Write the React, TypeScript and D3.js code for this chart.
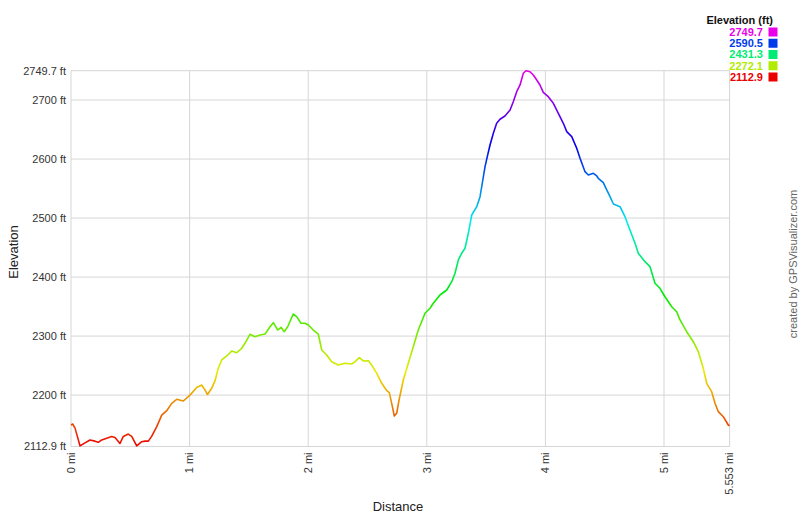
import * as d3 from 'd3';
import React from 'react';

// elevation profile (distance in miles, elevation in feet)
const distanceMi = [
  0, 0.014, 0.034, 0.076, 0.118, 0.16, 0.202, 0.23, 0.259, 0.301, 0.343, 0.371, 0.413, 0.441, 0.483,
  0.512, 0.554, 0.596, 0.624, 0.652, 0.68, 0.723, 0.765, 0.807, 0.849, 0.891, 0.947, 1.003, 1.06,
  1.102, 1.13, 1.151, 1.186, 1.214, 1.242, 1.271, 1.313, 1.355, 1.397, 1.439, 1.467, 1.509, 1.551,
  1.594, 1.636, 1.678, 1.706, 1.743, 1.771, 1.798, 1.827, 1.874, 1.903, 1.939, 1.973, 2.001, 2.043,
  2.085, 2.114, 2.156, 2.198, 2.254, 2.31, 2.367, 2.395, 2.431, 2.465, 2.507, 2.535, 2.578, 2.62,
  2.662, 2.684, 2.704, 2.726, 2.746, 2.766, 2.802, 2.844, 2.886, 2.928, 2.985, 3.027, 3.055, 3.111,
  3.168, 3.21, 3.238, 3.266, 3.294, 3.322, 3.35, 3.379, 3.421, 3.449, 3.463, 3.491, 3.51, 3.533,
  3.561, 3.589, 3.617, 3.659, 3.702, 3.729, 3.758, 3.786, 3.814, 3.836, 3.87, 3.898, 3.927, 3.954,
  3.982, 4.024, 4.067, 4.109, 4.151, 4.18, 4.222, 4.264, 4.292, 4.334, 4.362, 4.404, 4.433, 4.446,
  4.488, 4.517, 4.545, 4.573, 4.629, 4.671, 4.713, 4.756, 4.783, 4.84, 4.882, 4.924, 4.966, 5.008,
  5.065, 5.107, 5.135, 5.191, 5.247, 5.289, 5.331, 5.36, 5.402, 5.43, 5.458, 5.5, 5.542, 5.553,
];

const elevationFt = [
  2149, 2151, 2144, 2114, 2119, 2124, 2122, 2120, 2124, 2127, 2130, 2128, 2118, 2130, 2134,
  2130, 2114, 2121, 2122, 2122, 2130, 2146.5, 2166, 2173.6, 2186, 2192.9, 2190, 2200, 2213,
  2217, 2208.6, 2201, 2211.5, 2224, 2245.4, 2259.5, 2266.3, 2274.7, 2271.8, 2279.3, 2287.8, 2303, 2299,
  2301.8, 2303.5, 2315.9, 2322.7, 2310.3, 2314.9, 2307.4, 2315.9, 2337.4, 2332.9, 2321.7, 2321.7, 2318.8, 2310.3,
  2303.5, 2276.4, 2267.9, 2256.6, 2251, 2253.9, 2252.7, 2256.6, 2263.4, 2257.8, 2258.3, 2251, 2236.9, 2220,
  2207.5, 2204.1, 2186.1, 2164.6, 2169.2, 2191.7, 2225.6, 2253.9, 2282, 2310.3, 2338.6, 2347.1, 2355.6, 2369.6,
  2378.1, 2392.2, 2406.4, 2429, 2440.3, 2448.8, 2474.2, 2505.2, 2519.3, 2536.2, 2553.2, 2587.1, 2604, 2623.8,
  2643.6, 2660.6, 2667.4, 2673, 2683.1, 2697.2, 2714.2, 2725.5, 2745.3, 2749.7, 2748, 2742.4, 2733.9, 2725.5,
  2713.1, 2705.7, 2694.5, 2677.5, 2660.6, 2646.4, 2637.9, 2618.2, 2601.3, 2578.6, 2573, 2575.9, 2571.3, 2567.4,
  2559.9, 2547.6, 2536.2, 2523.8, 2519.3, 2502.3, 2479.8, 2457.2, 2440.3, 2426.1, 2417.6, 2389.5, 2381, 2366.7,
  2349.8, 2341.3, 2327.3, 2307.4, 2290.5, 2273.5, 2245.4, 2220, 2205.8, 2186.1, 2171.9, 2163.4, 2149.3, 2148.1,
];

const yTicks = [2112.9, 2200, 2300, 2400, 2500, 2600, 2700, 2749.7];
const xTicks = [0, 1, 2, 3, 4, 5, 5.553];
const legendValues = [2749.7, 2590.5, 2431.3, 2272.1, 2112.9];

const width = 800;
const height = 517;
const marginTop = 70.7;
const marginRight = 70.4;
const marginBottom = 70.5;
const marginLeft = 71;
const font = 'Arial, "Liberation Sans", sans-serif';

const minEle = 2112.9;
const maxEle = 2749.7;

// hue ramp red -> magenta across the elevation range
const colorOf = (v: number) =>
  d3.hsl((300 * (v - minEle)) / (maxEle - minEle), 1, 0.46).formatHex();

export default function App() {
  const x = d3.scaleLinear().domain([0, 5.553]).range([marginLeft, width - marginRight]);
  const y = d3.scaleLinear().domain([minEle, maxEle]).range([height - marginBottom, marginTop]);

  const points = distanceMi.map((d, i) => [d, elevationFt[i]] as [number, number]);
  const line = d3.line<[number, number]>()
    .x(d => x(d[0]))
    .y(d => y(d[1]));

  const stops = d3.range(0, 11).map(i => i / 10);

  return (
    <div style={{ position: 'absolute', left: 0, top: 0 }}>
      <svg width={width} height={height} viewBox={`0 0 ${width} ${height}`} style={{ display: 'block', background: '#fff' }}>
        <defs>
          <linearGradient id="eleGrad" gradientUnits="userSpaceOnUse"
            x1={0} x2={0} y1={y(minEle)} y2={y(maxEle)}>
            {stops.map(t => (
              <stop key={t} offset={t} stopColor={colorOf(minEle + t * (maxEle - minEle))} />
            ))}
          </linearGradient>
        </defs>

        {/* grid */}
        <g stroke="#d6d6d6" strokeWidth={1} fill="none">
          {yTicks.map(v => (
            <line key={`h${v}`} x1={x(0)} x2={x(5.553)} y1={y(v)} y2={y(v)} />
          ))}
          {xTicks.map(v => (
            <line key={`v${v}`} x1={x(v)} x2={x(v)} y1={y(minEle)} y2={y(maxEle)} />
          ))}
        </g>

        {/* y tick labels */}
        <g fontFamily={font} fontSize={11} fill="#333" textAnchor="end">
          {yTicks.map(v => (
            <text key={v} x={x(0) - 5} y={y(v)} dy="0.35em">{`${v} ft`}</text>
          ))}
        </g>

        {/* x tick labels */}
        <g fontFamily={font} fontSize={11} fill="#333" textAnchor="end">
          {xTicks.map(v => (
            <text key={v} transform={`translate(${x(v)},${y(minEle) + 6}) rotate(-90)`} dy="0.35em">{`${v} mi`}</text>
          ))}
        </g>

        {/* axis titles */}
        <text x={398} y={511} textAnchor="middle" fontFamily={font} fontSize={13} fill="#222">Distance</text>
        <text transform="translate(13,252) rotate(-90)" textAnchor="middle" dy="0.35em"
          fontFamily={font} fontSize={13} fill="#222">Elevation</text>

        {/* profile */}
        <path d={line(points) ?? ''} fill="none" stroke="url(#eleGrad)" strokeWidth={1.6} strokeLinejoin="round" />

        {/* legend */}
        <text x={773} y={24} textAnchor="end" fontFamily={font} fontSize={11} fontWeight="bold" fill="#111">Elevation (ft)</text>
        {legendValues.map((v, i) => {
          const cy = 32 + i * 11.25;
          return (
            <g key={v}>
              <text x={763} y={cy} dy="0.35em" textAnchor="end" fontFamily={font} fontSize={11}
                fontWeight="bold" fill={colorOf(v)}>{v.toFixed(1)}</text>
              <rect x={768.5} y={cy - 4.5} width={9} height={9} fill={colorOf(v)} />
            </g>
          );
        })}

        {/* credit */}
        <text transform="translate(793,264) rotate(-90)" textAnchor="middle" dy="0.35em"
          fontFamily={font} fontSize={11} fill="#666">created by GPSVisualizer.com</text>
      </svg>
    </div>
  );
}
